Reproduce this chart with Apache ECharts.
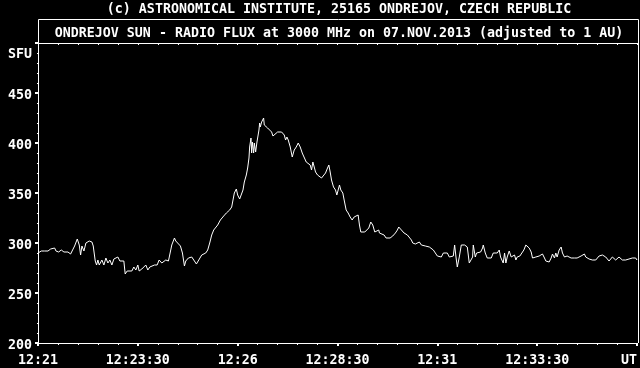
<!DOCTYPE html>
<html><head><meta charset="utf-8">
<script src="https://cdn.jsdelivr.net/npm/echarts@6/dist/echarts.min.js"></script>
<style>html,body{margin:0;padding:0;background:#000;}#c{width:640px;height:368px;}</style>
</head><body><div id="c"></div>
<script>
// seconds after 12:21:00 UT
const secs = [0,5,10,12,15,19,22,25,27,31,35,39,45,49,52,55,59,62,64,66,69,72,75,77,81,83,86,88,90,92,96,99,102,105,108,111,114,117,120,123,126,129,131,134,137,141,144,147,150,152,156,159,162,165,168,171,175,179,182,186,189,192,196,199,201,205,207,210,214,217,220,222,
226,231,234,238,241,246,248,252,255,258,261,264,266,270,274,276,279,283,285,288,291,293,295,298,300,303,306,308,310,313,315,317,318,320,321,322,324,325,327,329,330,332,333,334,336,339,340,343,345,348,351,353,355,360,363,366,
367,370,372,374,376,379,382,385,388,391,394,397,400,403,406,409,411,413,415,417,420,423,426,429,432,435,437,439,441,444,447,449,451,453,455,458,460,463,466,469,472,475,478,481,483,485,488,491,494,497,500,503,506,509,512,
513,516,520,523,526,529,533,537,540,542,543,546,548,550,553,555,558,561,563,567,570,573,576,579,582,585,588,591,594,597,600,603,606,609,612,615,618,621,624,626,628,630,633,636,638,641,643,645,648,651,653,654,657,659,662,665,668,669,672,675,678,681,684,686,690,693,695,698,699,
701,703,705,708,711,713,716,718,720,724,727,730,733,735,738,741,743,746,748,750,753,756,758,761,763,765,768,771,773,776,778,780,783,786,788,791,793,795,798,801,803,806,808,810,813,816,818,821,823,825,828,831,833,836,838,840,843,846,848,851,853,855,858,861,863,866,868,870,873,876,878,881,883,885,888,891,893,896,898,900];
// solar radio flux, SFU
const flux = [290,292,292,294,292,294,292,295,292,291,293,291,291,289,290,297,304,298,288,297,292,300,299,302,301,297,282,278,283,278,283,278,285,280,283,278,284,282,286,282,283,282,269,272,273,272,276,273,278,272,274,276,278,273,276,277,278,278,283,280,282,283,282,283,298,305,302,304,297,290,277,282,
285,286,283,279,279,288,286,290,293,300,308,313,311,318,323,321,327,330,329,333,336,343,350,354,348,344,345,353,361,368,375,385,396,405,390,401,390,400,391,401,405,413,420,416,421,425,418,416,415,413,411,407,409,411,413,411,
410,408,403,406,403,396,386,393,396,400,396,390,390,381,380,378,373,381,376,371,368,368,365,366,370,375,378,371,363,356,353,348,353,358,353,350,343,333,330,326,323,326,325,328,318,311,313,311,310,315,321,318,311,313,313,
310,308,308,305,306,305,307,310,313,316,317,313,315,310,311,308,310,303,300,299,300,301,298,299,297,297,296,297,293,290,287,285,286,290,292,290,286,288,287,298,286,276,286,298,300,298,300,296,280,278,286,298,286,290,290,291,295,298,290,285,286,285,290,288,290,293,286,286,280,
290,280,286,292,286,285,288,283,286,287,290,293,298,298,295,291,285,285,286,288,287,286,289,285,282,284,281,285,289,285,290,286,293,296,290,286,285,287,285,285,284,285,285,285,284,287,287,289,286,285,284,285,283,285,283,285,287,289,288,287,286,285,282,284,286,285,283,285,286,284,283,285,283,285,284,283,285,283,285,283];
const xTickLabels = ['12:21','12:23:30','12:26','12:28:30','12:31','12:33:30','UT'];
const yTickLabels = ['200','250','300','350','400','450',''];
const title1 = '(c) ASTRONOMICAL INSTITUTE, 25165 ONDREJOV, CZECH REPUBLIC';
const title2 = 'ONDREJOV SUN - RADIO FLUX at 3000 MHz on 07.NOV.2013 (adjusted to 1 AU)';
const unitLabel = 'SFU';

const FONT = 'DejaVu Sans Mono';
const txt = {color:'#fff', fontFamily:FONT, fontWeight:'bold', fontSize:13.3};
const chart = echarts.init(document.getElementById('c'), null, {renderer:'canvas'});
chart.setOption({
  backgroundColor:'#000',
  animation:false,
  grid:{left:38, right:2, top:43, bottom:25, containLabel:false},
  xAxis:[{
    type:'value', min:0, max:900, interval:150, position:'bottom',
    axisLine:{show:true, lineStyle:{color:'#fff', width:1}},
    axisTick:{show:true, length:3, lineStyle:{color:'#fff', width:2}},
    minorTick:{show:true, splitNumber:5, length:2, lineStyle:{color:'#fff', width:1}},
    splitLine:{show:false},
    axisLabel:Object.assign({margin:11, alignMaxLabel:'right', showMinLabel:true, showMaxLabel:true,
      formatter:function(v){return xTickLabels[Math.round(v/150)]||'';}}, txt)
  },{
    type:'value', min:0, max:900, interval:30, position:'top',
    axisLine:{show:true, onZero:false, lineStyle:{color:'#fff', width:1}},
    axisTick:{show:true, inside:true, length:2, lineStyle:{color:'#fff', width:1}},
    axisLabel:{show:false}, splitLine:{show:false}
  }],
  yAxis:{
    type:'value', min:200, max:500, interval:50,
    axisLine:{show:true, lineStyle:{color:'#fff', width:1}},
    axisTick:{show:true, length:3, lineStyle:{color:'#fff', width:2}},
    minorTick:{show:true, splitNumber:5, length:1, lineStyle:{color:'#fff', width:1}},
    splitLine:{show:false},
    axisLabel:{margin:6, color:'#fff',
      formatter:function(v){var s=yTickLabels[Math.round((v-200)/50)]; return s?'{a|'+s+'}':'';},
      rich:{a:{color:'#fff', fontFamily:FONT, fontWeight:'bold', fontSize:13.3, padding:[5,0,0,0]}}}
  },
  graphic:[
    {type:'polyline', silent:true, shape:{points:[[38.5,343],[38.5,19.5],[638.5,19.5],[638.5,343]]}, style:{stroke:'#fff', fill:null, lineWidth:1}},
    {type:'text', x:339, y:10, style:{text:title1, fill:'#fff', align:'center', verticalAlign:'middle', font:'bold 13.3px "DejaVu Sans Mono"'}},
    {type:'text', x:339, y:34, style:{text:title2, fill:'#fff', align:'center', verticalAlign:'middle', font:'bold 13.3px "DejaVu Sans Mono"'}},
    {type:'text', x:32, y:55, style:{text:unitLabel, fill:'#fff', align:'right', verticalAlign:'middle', font:'bold 13.3px "DejaVu Sans Mono"'}}
  ],
  series:[{
    type:'line', xAxisIndex:0, showSymbol:false, symbol:'none',
    lineStyle:{color:'#fff', width:1},
    data:secs.map(function(s,i){return [s, flux[i]];})
  }]
});
</script></body></html>
